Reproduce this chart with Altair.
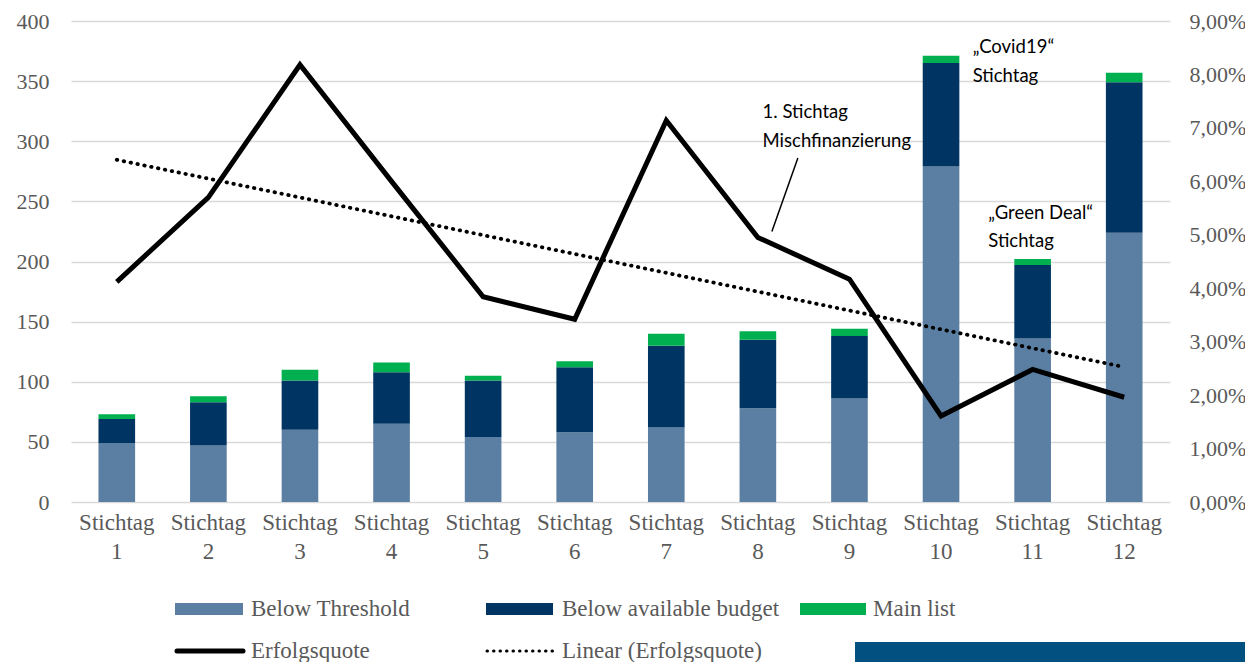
import altair as alt
import pandas as pd

categories = [f"Stichtag {i}" for i in range(1, 13)]
below_threshold = [49, 47, 60, 65, 54, 58, 62, 78, 86, 279, 136, 224]
below_budget = [20, 36, 41, 43, 47, 54, 68, 57, 52, 86, 61, 125]
main_list = [4, 5, 9, 8, 4, 5, 10, 7, 6, 6, 5, 8]
erfolgsquote = [4.12, 5.70, 8.18, 6.00, 3.84, 3.42, 7.14, 4.95, 4.17, 1.61, 2.48, 1.96]

series_names = ["Below Threshold", "Below available budget", "Main list"]
series_colors = ["#5a7fa3", "#003462", "#00b050"]

rows = []
for s_i, (name, vals) in enumerate(zip(series_names, [below_threshold, below_budget, main_list])):
    for c, v in zip(categories, vals):
        rows.append({"cat": c, "series": name, "value": v, "order": s_i})
bars_df = pd.DataFrame(rows)
line_df = pd.DataFrame({"cat": categories, "idx": list(range(1, 13)), "quote": erfolgsquote})

SERIF = "Liberation Serif"
SANS = "Lato"
GREY = "#595959"
W, H = 1099, 481

x_enc = alt.X("cat:N", sort=categories,
              scale=alt.Scale(domain=categories, paddingInner=0.6, paddingOuter=0.3),
              axis=alt.Axis(title=None, labelAngle=0, labelExpr="split(datum.label, ' ')",
                            labelFont=SERIF, labelFontSize=23, labelColor=GREY,
                            labelLineHeight=29, labelPadding=9, ticks=False, domain=False,
                            grid=False))

bars = alt.Chart(bars_df).mark_bar().encode(
    x=x_enc,
    y=alt.Y("sum(value):Q", stack="zero",
            scale=alt.Scale(domain=[0, 400], nice=False),
            axis=alt.Axis(title=None, values=list(range(0, 401, 50)), labelFont=SERIF,
                          labelFontSize=22, labelColor=GREY, labelPadding=22, ticks=False,
                          domain=False, grid=True, gridColor="#d9d9d9", gridWidth=1.3)),
    color=alt.Color("series:N", scale=alt.Scale(domain=series_names, range=series_colors), legend=None),
    order=alt.Order("order:Q"),
)

pct_axis = alt.Axis(title=None, values=list(range(0, 10)), orient="right",
                    labelExpr="replace(format(datum.value, '.2f'), '.', ',') + '%'",
                    labelFont=SERIF, labelFontSize=22, labelColor=GREY, labelPadding=19,
                    ticks=False, domain=False, grid=False)
pct_scale = alt.Scale(domain=[0, 9], nice=False)

line = alt.Chart(line_df).mark_line(color="black", strokeWidth=5, strokeJoin="miter").encode(
    x=alt.X("cat:N", sort=categories),
    y=alt.Y("quote:Q", scale=pct_scale, axis=pct_axis, title=None),
)

trend = alt.Chart(line_df).transform_regression("idx", "quote").transform_calculate(
    cat="'Stichtag ' + datum.idx"
).mark_line(color="black", strokeWidth=3.8, strokeDash=[0.5, 6.5], strokeCap="round").encode(
    x=alt.X("cat:N", sort=categories),
    y=alt.Y("quote:Q", scale=pct_scale, title=None),
)

# annotations (in data coordinates of the left axis)
ann_df = pd.DataFrame([
    {"cat": "Stichtag 10", "v": 378, "t": "\u201eCovid19\u201c", "dx": 50},
    {"cat": "Stichtag 10", "v": 354, "t": "Stichtag", "dx": 50},
    {"cat": "Stichtag 8", "v": 324, "t": "1. Stichtag", "dx": 23},
    {"cat": "Stichtag 8", "v": 300, "t": "Mischfinanzierung", "dx": 23},
    {"cat": "Stichtag 11", "v": 240, "t": "\u201eGreen Deal\u201c", "dx": -26},
    {"cat": "Stichtag 11", "v": 217, "t": "Stichtag", "dx": -26},
])
ann_text = alt.Chart(ann_df).mark_text(align="left", baseline="middle", font=SANS,
                                       fontSize=18.5, color="black").encode(
    x=alt.X("cat:N", sort=categories), y=alt.Y("v:Q", scale=alt.Scale(domain=[0, 400], nice=False)),
    xOffset=alt.XOffset("dx:Q", scale=None), text="t:N")

pointer = alt.Chart(pd.DataFrame({"cat": ["Stichtag 8"], "v1": [286], "v2": [225]})).mark_rule(
    color="black", strokeWidth=1.5, xOffset=40, x2Offset=14).encode(
    x=alt.X("cat:N", sort=categories), x2=alt.X2("cat:N"),
    y=alt.Y("v1:Q", scale=alt.Scale(domain=[0, 400], nice=False)), y2="v2:Q")

# manual legend
leg_rects = pd.DataFrame({
    "label": series_names,
    "x": [104, 415, 729], "x2": [172, 482, 795], "color": series_colors,
    "tx": [180, 491, 802],
})
legend_layers = []
for _, r in leg_rects.iterrows():
    legend_layers.append(alt.Chart(pd.DataFrame({"a": [0]})).mark_rect(color=r["color"]).encode(
        x=alt.value(r["x"]), x2=alt.value(r["x2"]), y=alt.value(582), y2=alt.value(594)))
    legend_layers.append(alt.Chart(pd.DataFrame({"a": [0]})).mark_text(
        text=r["label"], align="left", baseline="middle", font=SERIF, fontSize=23, color=GREY).encode(
        x=alt.value(r["tx"]), y=alt.value(588)))
legend_layers.append(alt.Chart(pd.DataFrame({"a": [0]})).mark_rule(
    color="black", strokeWidth=5, strokeCap="round").encode(
    x=alt.value(106), x2=alt.value(172), y=alt.value(630)))
legend_layers.append(alt.Chart(pd.DataFrame({"a": [0]})).mark_text(
    text="Erfolgsquote", align="left", baseline="middle", font=SERIF, fontSize=23, color=GREY).encode(
    x=alt.value(180), y=alt.value(630)))
legend_layers.append(alt.Chart(pd.DataFrame({"a": [0]})).mark_rule(
    color="black", strokeWidth=3, strokeCap="round", strokeDash=[0.5, 6]).encode(
    x=alt.value(416), x2=alt.value(482), y=alt.value(630)))
legend_layers.append(alt.Chart(pd.DataFrame({"a": [0]})).mark_text(
    text="Linear (Erfolgsquote)", align="left", baseline="middle", font=SERIF, fontSize=23, color=GREY).encode(
    x=alt.value(491), y=alt.value(630)))
legend_layers.append(alt.Chart(pd.DataFrame({"a": [0]})).mark_rect(color="#02507f").encode(
    x=alt.value(784), x2=alt.value(1200), y=alt.value(621), y2=alt.value(660)))

left = alt.layer(bars, ann_text, pointer, *legend_layers)
right = alt.layer(line, trend)

chart = alt.layer(left, right).resolve_scale(y="independent").properties(
    width=W, height=H,
    autosize=alt.AutoSizeParams(type="none"),
    padding={"left": 63, "top": 13, "right": 75, "bottom": 160},
).configure(background="white").configure_view(strokeWidth=0)

chart.save("out.html", embed_options={"renderer": "svg", "actions": False})
